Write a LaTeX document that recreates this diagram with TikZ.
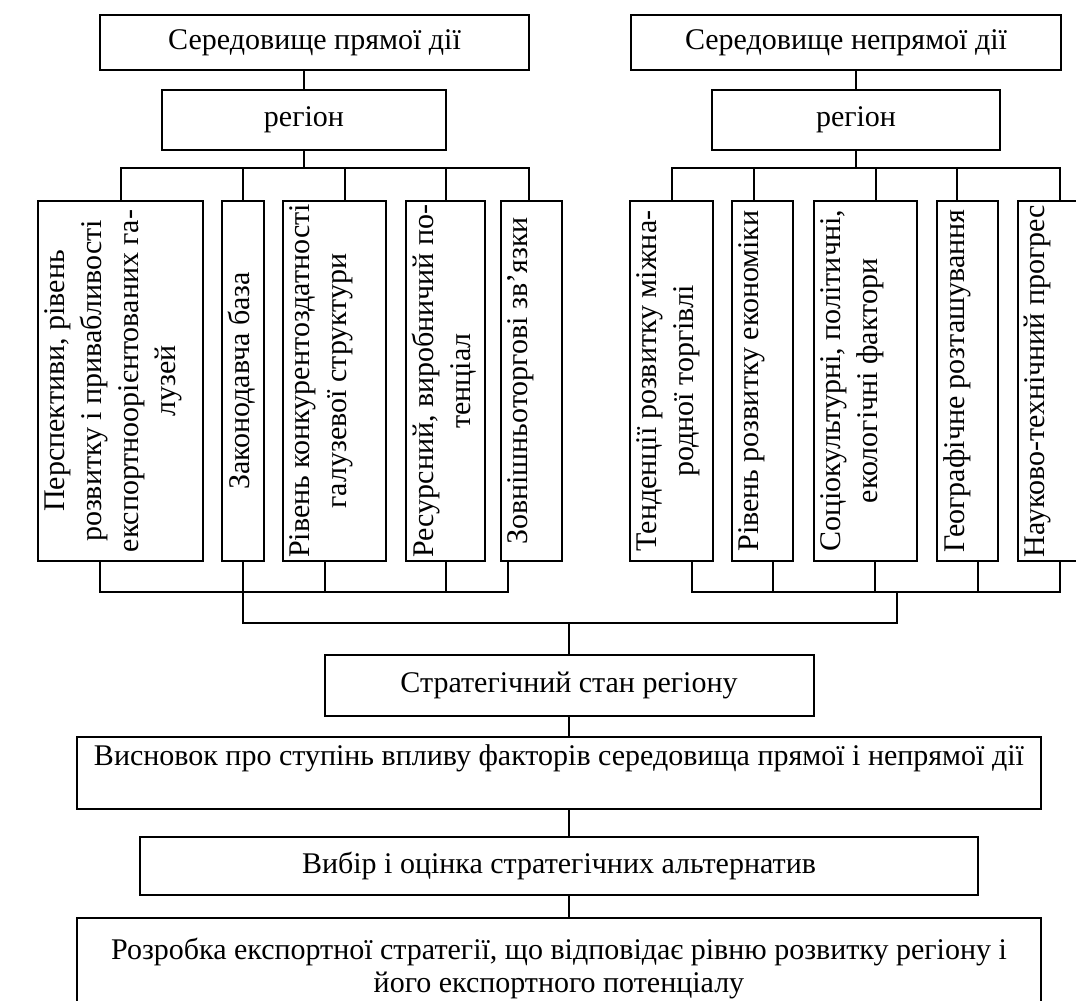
\documentclass[tikz,border=0pt]{standalone}
\usepackage{fontspec}
\setmainfont{Liberation Serif}

\begin{document}
\begin{tikzpicture}[
        x=1pt, y=-1pt,
        box/.style  = {draw, line width=2pt, inner sep=0pt, font=\fontsize{30}{33}\selectfont},
        fac/.style  = {draw, line width=2pt, inner sep=0pt, rotate=90, minimum width=360pt},
        ftxt/.style = {rotate=90, anchor=north, align=center, inner xsep=0pt, inner ysep=7pt, font=\fontsize{30}{37}\selectfont},
        ln/.style   = {line width=2pt}
    ]
        \useasboundingbox (0,0) rectangle (1076,1001);

        \node[box, minimum width=429pt, minimum height=55pt] (topL) at (314.5,42.5) {Середовище прямої дії};
        \node[box, minimum width=430pt, minimum height=55pt] (topR) at (846,42.5)   {Середовище непрямої дії};
        \node[box, minimum width=284pt, minimum height=60pt] (regL) at (304,120)    {регіон};
        \node[box, minimum width=288pt, minimum height=60pt] (regR) at (856,120)    {регіон};

        % direct action
        \node[fac, minimum height=165pt] (bL1) at (120.5,381) {};
        \node[fac, minimum height=42pt]  (bL2) at (243,381)   {};
        \node[fac, minimum height=103pt] (bL3) at (334.5,381) {};
        \node[fac, minimum height=79pt]  (bL4) at (445.5,381) {};
        \node[fac, minimum height=61pt]  (bL5) at (531.5,381) {};
        \node[ftxt] (xL1) at (bL1.north) {Перспективи, рівень\\ розвитку і привабливості\\ експортноорієнтованих га-\\ лузей};
        \node[ftxt] (xL2) at (bL2.north) {Законодавча база};
        \node[ftxt] (xL3) at (bL3.north) {Рівень конкурентоздатності\\ галузевої структури};
        \node[ftxt] (xL4) at (bL4.north) {Ресурсний, виробничий по-\\ тенціал};
        \node[ftxt] (xL5) at (bL5.north) {Зовнішньоторгові зв'язки};

        % indirect action
        \node[fac, minimum height=83pt]  (bR1) at (671.5,381) {};
        \node[fac, minimum height=61pt]  (bR2) at (762.5,381) {};
        \node[fac, minimum height=103pt] (bR3) at (865.5,381) {};
        \node[fac, minimum height=61pt]  (bR4) at (967.5,381) {};
        \node[fac, minimum height=64pt]  (bR5) at (1050,381)  {};
        \node[ftxt] (xR1) at (bR1.north) {Тенденції розвитку міжна-\\ родної торгівлі};
        \node[ftxt] (xR2) at (bR2.north) {Рівень розвитку економіки};
        \node[ftxt] (xR3) at (bR3.north) {Соціокультурні, політичні,\\ екологічні фактори};
        \node[ftxt] (xR4) at (bR4.north) {Географічне розташування};
        \node[ftxt] (xR5) at (bR5.north) {Науково-технічний прогрес};

        \node[box, minimum width=489pt, minimum height=61pt] (state) at (569,685.5) {Стратегічний стан регіону};
        \node[box, minimum width=964pt, minimum height=72pt, text depth=36pt] (concl) at (559,773) {Висновок про ступінь впливу факторів середовища прямої і непрямої дії};
        \node[box, minimum width=838pt, minimum height=58pt] (choice) at (559,866) {Вибір і оцінка стратегічних альтернатив};
        \node[box, minimum width=964pt, minimum height=100pt, anchor=north, align=center] (devel) at (559,917) {Розробка експортної стратегії, що відповідає рівню розвитку регіону і\\ його експортного потенціалу};

        % taps
        \coordinate (tL1) at (121,168);  \coordinate (tL2) at (243,168);  \coordinate (tL3) at (345,168);
        \coordinate (tL4) at (446,168);  \coordinate (tL5) at (529,168);
        \coordinate (tR1) at (672,168);  \coordinate (tR2) at (754,168);  \coordinate (tR3) at (876,168);
        \coordinate (tR4) at (957,168);  \coordinate (tR5) at (1060,168);
        \coordinate (dL1) at (100,592);  \coordinate (dL3) at (325,592);  \coordinate (dL4) at (446,592);
        \coordinate (dL5) at (508,592);
        \coordinate (dR1) at (692,592);  \coordinate (dR2) at (773,592);  \coordinate (dR3) at (875,592);
        \coordinate (dR4) at (978,592);  \coordinate (dR5) at (1060,592); \coordinate (dRm) at (897,592);
        \coordinate (jL) at (243,623);   \coordinate (jR) at (897,623);

        \draw[ln] (regL.north) -- (regL.north |- topL.south);
        \draw[ln] (regR.north) -- (regR.north |- topR.south);
        \draw[ln] (regL.south) -- (regL.south |- tL1);
        \draw[ln] (regR.south) -- (regR.south |- tR1);

        \draw[ln] (tL1 |- bL1.east) -- (tL1) -- (tL5) -- (tL5 |- bL5.east);
        \draw[ln] (tL2) -- (tL2 |- bL2.east);
        \draw[ln] (tL3) -- (tL3 |- bL3.east);
        \draw[ln] (tL4) -- (tL4 |- bL4.east);
        \draw[ln] (tR1 |- bR1.east) -- (tR1) -- (tR5) -- (tR5 |- bR5.east);
        \draw[ln] (tR2) -- (tR2 |- bR2.east);
        \draw[ln] (tR3) -- (tR3 |- bR3.east);
        \draw[ln] (tR4) -- (tR4 |- bR4.east);

        \draw[ln] (dL1 |- bL1.west) -- (dL1) -- (dL5) -- (dL5 |- bL5.west);
        \draw[ln] (dL3 |- bL3.west) -- (dL3);
        \draw[ln] (dL4 |- bL4.west) -- (dL4);
        \draw[ln] (dR1 |- bR1.west) -- (dR1) -- (dR5) -- (dR5 |- bR5.west);
        \draw[ln] (dR2 |- bR2.west) -- (dR2);
        \draw[ln] (dR3 |- bR3.west) -- (dR3);
        \draw[ln] (dR4 |- bR4.west) -- (dR4);

        \draw[ln] (bL2.west) -- (jL) -- (jR) -- (dRm);
        \draw[ln] (state.north |- jL) -- (state.north);
        \draw[ln] (state.south) -- (state.south |- concl.north);
        \draw[ln] (concl.south -| state.south) -- (choice.north -| state.south);
        \draw[ln] (choice.south -| state.south) -- (devel.north -| state.south);
\end{tikzpicture}
\end{document}
